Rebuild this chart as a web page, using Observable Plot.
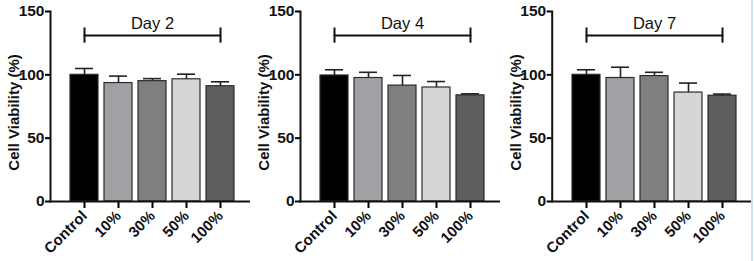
<!DOCTYPE html>
<html>
<head>
<meta charset="utf-8">
<script src="https://cdn.jsdelivr.net/npm/d3@7"></script>
<script src="https://cdn.jsdelivr.net/npm/@observablehq/plot@0.6"></script>
<style>
  html, body { margin: 0; padding: 0; background: #fff; }
  #wrap { position: relative; width: 754px; height: 261px; display: flex; }
  #edge { position: absolute; left: 751px; top: 0; width: 2px; height: 261px; background: #cfe0f2; }
  svg { font-family: "Liberation Sans", Arial, sans-serif; }
</style>
</head>
<body>
<div id="wrap"><div id="edge"></div></div>
<script>
const categories = ["Control", "10%", "30%", "50%", "100%"];
const colors = ["#000000", "#a1a1a5", "#7f7f7f", "#d6d6d6", "#5e5e5e"];
const days = ["Day 2", "Day 4", "Day 7"];
const meansDay2 = [100, 93.5, 95, 96.5, 91];
const errsDay2 = [5, 5.5, 2, 4, 3.5];
const meansDay4 = [99.5, 97.5, 91.5, 90, 83.8];
const errsDay4 = [4.5, 4.5, 8, 4.7, 1.2];
const meansDay7 = [100, 97.5, 99, 86, 83.5];
const errsDay7 = [4, 8.5, 3, 7.5, 1.3];
const yTicks = [0, 50, 100, 150];
const bracketY = 131;
const bracketHalf = 6;
const titleY = 140.5;

const panels = [
  {title: days[0], means: meansDay2, errs: errsDay2, width: 250, ml: 50},
  {title: days[1], means: meansDay4, errs: errsDay4, width: 250, ml: 50},
  {title: days[2], means: meansDay7, errs: errsDay7, width: 254, ml: 51.7}
];

const wrap = document.getElementById("wrap");
for (const p of panels) {
  const data = categories.map((c, i) => ({cat: c, v: p.means[i], e: p.errs[i]}));
  const ml = p.ml;
  const step = 33.6;
  const x0 = ml + 35 - step / 2;
  const chart = Plot.plot({
    width: p.width,
    height: 261,
    marginLeft: ml,
    marginRight: p.width - (ml + 198.5),
    marginTop: 11,
    marginBottom: 60,
    style: {fontFamily: "'Liberation Sans', Arial, sans-serif", background: "transparent", overflow: "visible"},
    x: {type: "band", domain: categories, range: [x0, x0 + 5 * step], paddingInner: 0.17, paddingOuter: 0, label: null},
    y: {domain: [0, 150], label: null},
    color: {domain: categories, range: colors},
    marks: [
      Plot.barY(data, {x: "cat", y: "v", fill: "cat", stroke: "#2a2a2a", strokeWidth: 1.2}),
      Plot.ruleX(data, {x: "cat", y1: "v", y2: d => d.v + d.e, stroke: "#222", strokeWidth: 1.6}),
      Plot.tickY(data, {x: "cat", y: d => d.v + d.e, stroke: "#222", strokeWidth: 1.6, insetLeft: 5, insetRight: 5}),
      Plot.line([{x: categories[0], y: bracketY}, {x: categories[4], y: bracketY}], {x: "x", y: "y", stroke: "#111", strokeWidth: 2}),
      Plot.ruleX([categories[0], categories[4]], {x: d => d, y1: bracketY - bracketHalf, y2: bracketY + bracketHalf, stroke: "#111", strokeWidth: 2}),
      Plot.text([p.title], {x: () => categories[2], y: titleY, text: d => d, fontSize: 16.5, fill: "#111"}),
      Plot.axisY({ticks: yTicks, tickSize: 5, strokeWidth: 2, fontSize: 15.5, fontWeight: "bold", fill: "#111", tickPadding: 1, label: null}),
      Plot.axisX({tickSize: 7, strokeWidth: 2, tickRotate: -45, fontSize: 15, fontWeight: "bold", fill: "#111", tickPadding: 5, label: null}),
      Plot.frame({anchor: "left", strokeWidth: 2, stroke: "#111"}),
      Plot.frame({anchor: "bottom", strokeWidth: 2, stroke: "#111"}),
      Plot.text(["Cell Viability (%)"], {frameAnchor: "left", textAnchor: "middle", dx: -36, dy: 6, rotate: -90, fontSize: 15, fontWeight: "bold", fill: "#111"})
    ]
  });
  chart.style.flex = "none";
  wrap.appendChild(chart);
}
</script>
</body>
</html>
